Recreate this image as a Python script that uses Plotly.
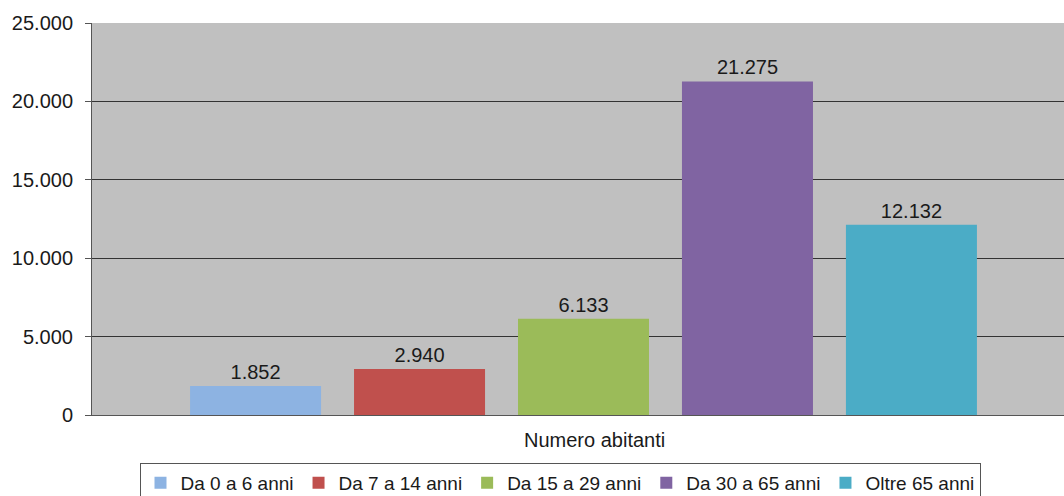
import plotly.graph_objects as go

CATEGORY = "Numero abitanti"
SERIES = ["Da 0 a 6 anni", "Da 7 a 14 anni", "Da 15 a 29 anni",
          "Da 30 a 65 anni", "Oltre 65 anni"]
VALUES = [1852, 2940, 6133, 21275, 12132]
COLORS = ["#8DB3E2", "#C0504D", "#9BBB59", "#8064A2", "#4BACC6"]
Y_TICKS = [0, 5000, 10000, 15000, 20000, 25000]

FONT = "Liberation Sans, Arial, sans-serif"
W, H = 1064, 496
L, T, B = 92, 23, 81
PLOT_W = W - L
PLOT_H = H - T - B

fig = go.Figure()
for name, val, col in zip(SERIES, VALUES, COLORS):
    fig.add_trace(go.Bar(
        x=[CATEGORY], y=[val], name=name,
        marker=dict(color=col, line=dict(width=0)),
        text=[val], texttemplate="%{y:,d}", textposition="outside",
        textfont=dict(size=20, color="#1a1a1a", family=FONT),
        cliponaxis=False))

# la zona del grafico nell'originale prosegue oltre il bordo destro
cat_px = 983
fig.update_xaxes(
    type="category", range=[-0.5, -0.5 + PLOT_W / cat_px],
    showticklabels=False, showgrid=False, zeroline=False,
    showline=True, linecolor="#555555", linewidth=1, ticks="")
fig.update_yaxes(
    range=[0, 25000], tickvals=Y_TICKS, tickformat=",d",
    showgrid=True, gridcolor="#333333", gridwidth=1.3,
    zeroline=False, showline=True, linecolor="#555555", linewidth=1,
    ticks="outside", ticklen=6, tickcolor="#555555", ticklabelstandoff=8,
    tickfont=dict(size=20, color="#1a1a1a", family=FONT))

fig.add_annotation(
    text=CATEGORY, xref="paper", yref="paper",
    x=(594 - L) / PLOT_W, y=-25 / PLOT_H, xanchor="center", yanchor="middle",
    showarrow=False, font=dict(size=20, color="#1a1a1a", family=FONT))

fig.update_layout(
    width=W, height=H, autosize=False,
    margin=dict(l=L, r=0, t=T, b=B, pad=0),
    barmode="group", bargap=0.166, bargroupgap=0.201,
    separators=",.",
    plot_bgcolor="#C0C0C0", paper_bgcolor="white",
    font=dict(family=FONT, size=19, color="#1a1a1a"),
    showlegend=True,
    legend=dict(orientation="h", xref="container", yref="container",
                x=560 / W, xanchor="center",
                y=(H - 463) / H, yanchor="top",
                bordercolor="#555555", borderwidth=1,
                font=dict(size=19, family=FONT, color="#1a1a1a"),
                itemwidth=30, traceorder="normal"),
)

# niente margine del <body>, così la figura occupa tutta la finestra
fig.write_html(
    "out.html",
    config={"displayModeBar": False},
    post_script="document.body.style.margin='0';"
                "document.body.style.overflow='hidden';")
